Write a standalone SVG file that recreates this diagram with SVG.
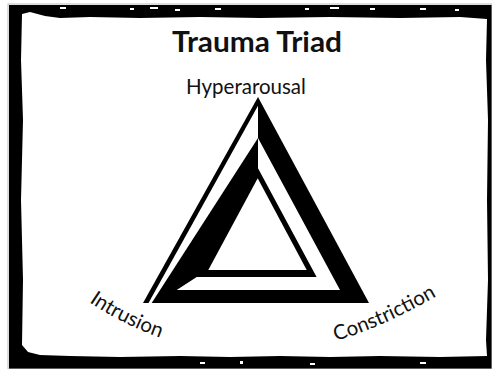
<svg xmlns="http://www.w3.org/2000/svg" width="492" height="369" viewBox="0 0 492 369">
<style>
.lbl{font-family:Lato,"Open Sans","Liberation Sans",sans-serif;font-size:20.5px;fill:#111}
.ttl{font-family:Lato,"Open Sans","Liberation Sans",sans-serif;font-size:28px;font-weight:bold;fill:#111}
.blk{fill:#000}
.wht{fill:#fff}
</style>
<rect width="492" height="369" fill="#fff"/>
<g id="frame">
<path fill="#000" fill-rule="evenodd" d="M9 5 H492 V369 H9 Z M22 14 L30 12 L45 16 L60 18 L90 17 L140 18 L200 17 L260 18 L330 17 L400 18 L460 17 L487 19 L486 60 L488 120 L487 200 L488 280 L486 340 L487 356 L440 357 L380 356 L330 357 L280 356 L230 357 L180 356 L120 357 L70 356 L40 355 L28 352 L22 345 L23 280 L21 200 L23 120 L21 60 Z"/>
<rect x="8" y="4" width="484" height="365" fill="none" stroke="#bbb" stroke-width="1"/>
<g fill="#fff">
<rect x="60" y="7" width="6" height="2"/><rect x="130" y="8" width="4" height="2"/><rect x="150" y="7" width="8" height="2"/><rect x="175" y="9" width="5" height="2"/><rect x="215" y="8" width="6" height="2"/><rect x="305" y="8" width="4" height="2"/><rect x="330" y="7" width="9" height="2"/><rect x="370" y="8" width="5" height="2"/><rect x="420" y="8" width="6" height="2"/><rect x="455" y="9" width="4" height="2"/>
<rect x="200" y="362" width="5" height="2"/><rect x="240" y="361" width="3" height="3"/><rect x="310" y="363" width="5" height="2"/><rect x="420" y="362" width="6" height="2"/>
</g>
</g>
<g id="title"><text class="ttl" x="257" y="52" text-anchor="middle" textLength="170" lengthAdjust="spacingAndGlyphs">Trauma Triad</text></g>
<g id="triangle">
<polygon class="blk" points="258,97 143,303 369,303"/>
<polygon class="wht" points="258,105.8 258,138 151.7,303 148.5,303"/>
<polygon class="wht" points="258,138 340,290 176.7,290 196.7,277 316.6,277 258,168.3"/>
<polygon class="wht" points="257.7,178.3 208.3,270 306.7,270"/>
</g>
<g id="hyperarousal"><text class="lbl" x="246" y="94" text-anchor="middle">Hyperarousal</text></g>
<defs>
<path id="pI" d="M89 302 Q124 326 172 342"/>
<path id="pC" d="M336 341 Q386 326 444 292"/>
</defs>
<g id="intrusion"><text class="lbl"><textPath href="#pI">Intrusion</textPath></text></g>
<g id="constriction"><text class="lbl"><textPath href="#pC">Constriction</textPath></text></g>
<g id="connectors"></g>
</svg>
